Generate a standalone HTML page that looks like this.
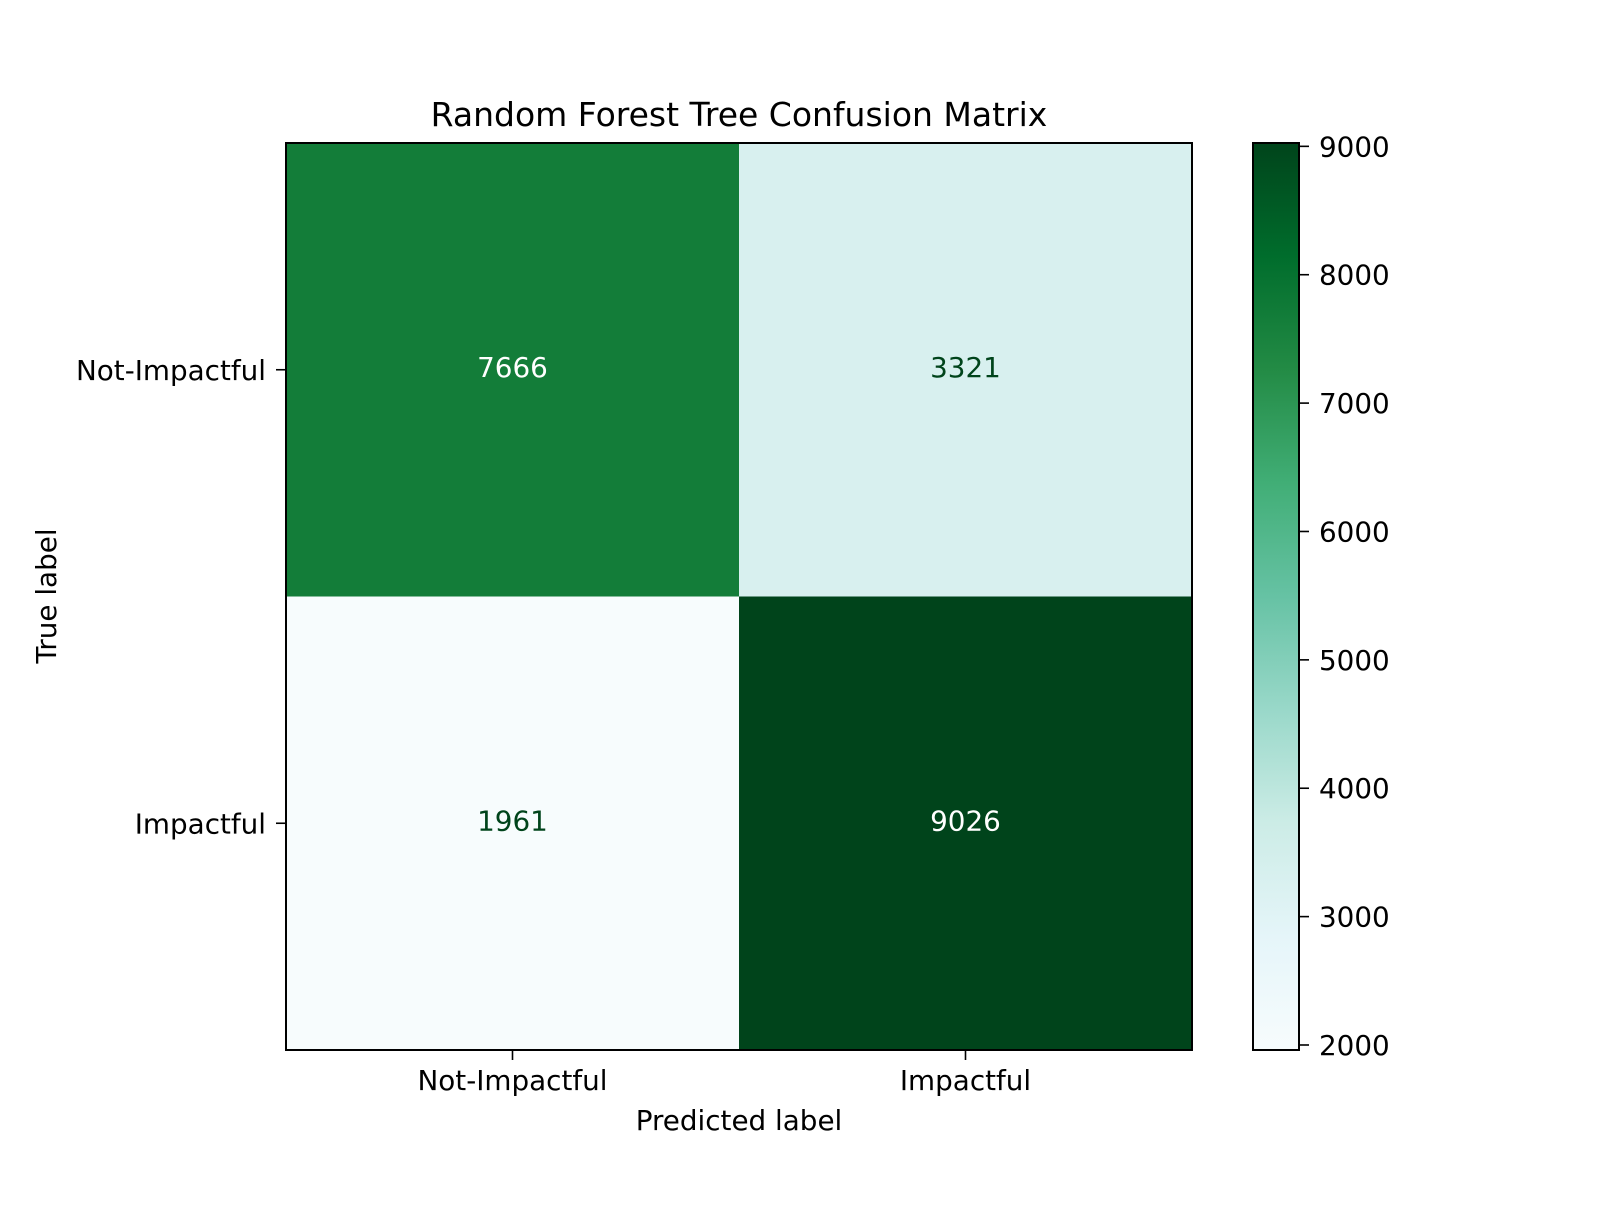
<!DOCTYPE html>
<html><head><meta charset="utf-8"><style>
html,body{margin:0;padding:0;background:#fff;}
svg text{font-family:"DejaVu Sans","Liberation Sans",sans-serif;}
</style></head><body>
<svg id="chart" width="1600" height="1200" viewBox="0 0 1600 1200" xmlns="http://www.w3.org/2000/svg">
<defs><linearGradient id="cbgrad" x1="0" y1="1" x2="0" y2="0"></linearGradient></defs>
<rect width="1600" height="1200" fill="#fff"/>
<text x="739" y="126" font-size="33" text-anchor="middle" fill="#000">Random Forest Tree Confusion Matrix</text>
<g id="cells"></g>
<g id="axes"></g>
<g id="cbar"></g>
<text x="739" y="1130" font-size="27.8" text-anchor="middle">Predicted label</text>
<text transform="translate(56,596) rotate(-90)" font-size="27.8" text-anchor="middle">True label</text>
</svg>
<script>
const labels = ["Not-Impactful", "Impactful"];
const row0 = [7666, 3321];
const row1 = [1961, 9026];
const cbTicks = [2000, 3000, 4000, 5000, 6000, 7000, 8000, 9000];
const matrix = [row0, row1];
const NS = "http://www.w3.org/2000/svg";
const ax = {x:286, y:143, w:906, h:907};
const bugn = ["#f7fcfd","#e5f5f9","#ccece6","#99d8c9","#66c2a4","#41ae76","#238b45","#006d2c","#00441b"];
function hex(c){return [1,3,5].map(i=>parseInt(c.substr(i,2),16));}
function cmap(t){t=Math.max(0,Math.min(1,t));const p=t*(bugn.length-1);const i=Math.min(Math.floor(p),bugn.length-2);const f=p-i;const a=hex(bugn[i]),b=hex(bugn[i+1]);return "rgb("+a.map((v,k)=>Math.round(v+(b[k]-v)*f)).join(",")+")";}
const all = matrix.flat();
const vmin = Math.min(...all), vmax = Math.max(...all);
const norm = v => (v - vmin) / (vmax - vmin);
const n = labels.length;
const cw = ax.w / n, ch = ax.h / n;
function mk(tag, attrs, parent){const e=document.createElementNS(NS,tag);for(const k in attrs)e.setAttribute(k,attrs[k]);parent.appendChild(e);return e;}
const cells = document.getElementById("cells");
const axes = document.getElementById("axes");
const cbar = document.getElementById("cbar");
const thresh = (vmax + vmin) / 2;
matrix.forEach((row, r) => row.forEach((v, c) => {
  const rect = mk("rect", {x: ax.x + c*cw, y: ax.y + r*ch, width: cw+0.5, height: ch+0.5, fill: cmap(norm(v))}, cells);
  
  
  const t = mk("text", {x: ax.x + (c+0.5)*cw, y: ax.y + (r+0.5)*ch + 7, "font-size": 27.8, "text-anchor": "middle", fill: v > thresh ? "#ffffff" : "#00441b"}, cells);
  t.textContent = v;
  
  
}));
const frame = mk("rect", {x: ax.x, y: ax.y, width: ax.w, height: ax.h, fill: "none", stroke: "#000", "stroke-width": 2}, axes);


labels.forEach((lab, i) => {
  const cx = ax.x + (i+0.5)*cw, cy = ax.y + (i+0.5)*ch;
  mk("line", {x1: cx, y1: ax.y+ax.h, x2: cx, y2: ax.y+ax.h+10, stroke: "#000", "stroke-width": 1.6}, axes);
  const xt = mk("text", {x: cx, y: ax.y+ax.h+40, "font-size": 27.8, "text-anchor": "middle"}, axes);
  xt.textContent = lab;
  
  
  mk("line", {x1: ax.x-10, y1: cy, x2: ax.x, y2: cy, stroke: "#000", "stroke-width": 1.6}, axes);
  const yt = mk("text", {x: ax.x-20, y: cy+10, "font-size": 27.8, "text-anchor": "end"}, axes);
  yt.textContent = lab;
  
  
});
const cb = {x:1253, y:143, w:46, h:907};
const grad = document.getElementById("cbgrad");
bugn.forEach((c, i) => mk("stop", {offset: (i/(bugn.length-1)*100)+"%", "stop-color": c}, grad));
const cbr = mk("rect", {x: cb.x, y: cb.y, width: cb.w, height: cb.h, fill: "url(#cbgrad)", stroke: "#000", "stroke-width": 2}, cbar);


cbTicks.forEach(v => {
  const y = cb.y + cb.h - norm(v) * cb.h;
  mk("line", {x1: cb.x+cb.w, y1: y, x2: cb.x+cb.w+10, y2: y, stroke: "#000", "stroke-width": 1.6}, cbar);
  const t = mk("text", {x: cb.x+cb.w+20, y: y+10, "font-size": 27.8}, cbar);
  t.textContent = v;
  
  
});
</script>
</body></html>
